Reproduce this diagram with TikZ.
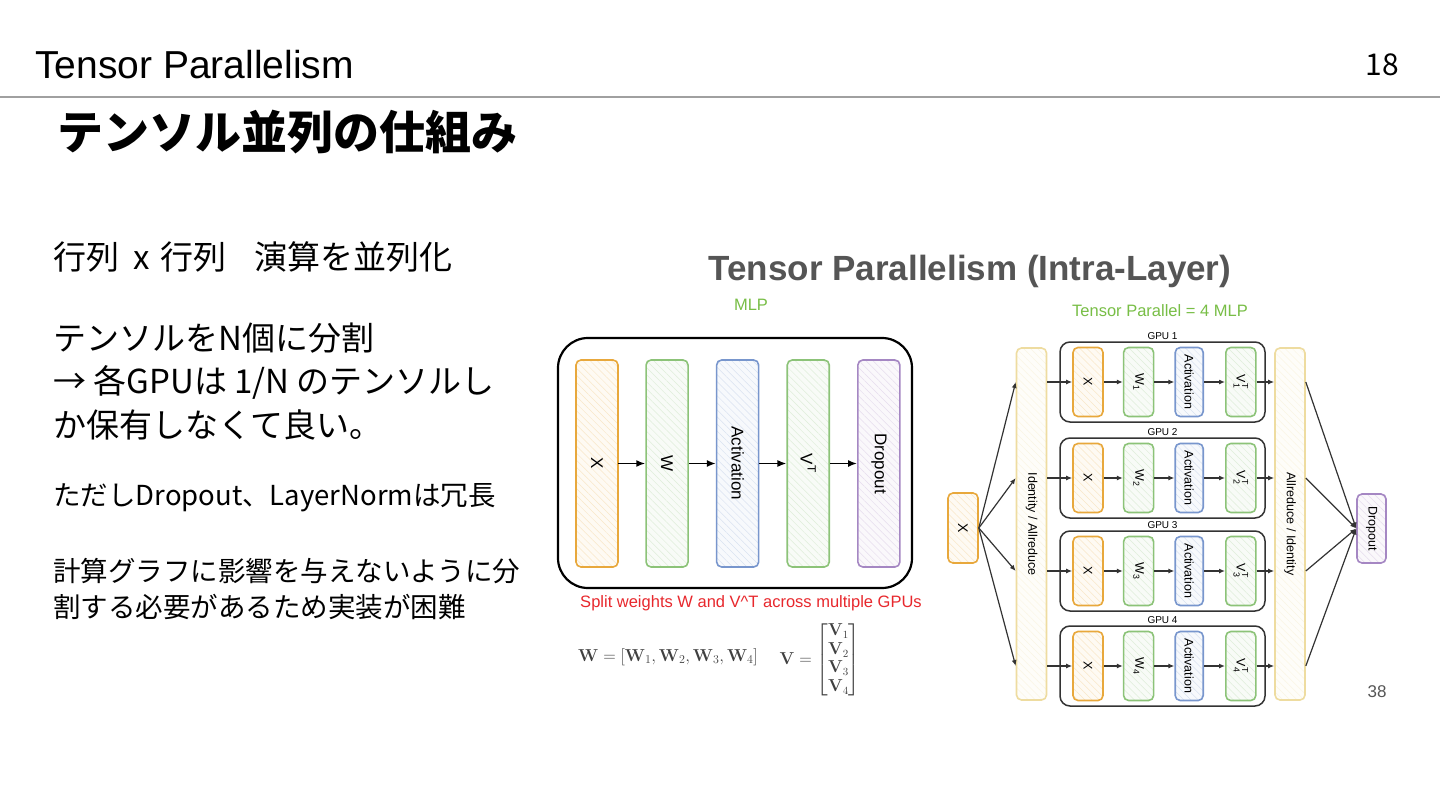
\documentclass[tikz,border=0pt]{standalone}
\usepackage{amsmath}
\usepackage[no-math]{fontspec}
\usetikzlibrary{arrows.meta,positioning,patterns.meta}
\setmainfont{Liberation Sans}
\newfontfamily\jpfont{Noto Sans CJK JP}
\definecolor{xorange}{RGB}{232,168,60}
\definecolor{wgreen}{RGB}{140,195,120}
\definecolor{actblue}{RGB}{120,150,205}
\definecolor{dpurple}{RGB}{165,135,195}
\definecolor{idyellow}{RGB}{238,220,160}
\definecolor{mlpgreen}{RGB}{120,190,70}
\definecolor{splitred}{RGB}{232,40,45}
\definecolor{rulegray}{RGB}{160,160,160}
\definecolor{figgray}{RGB}{85,85,85}

\begin{document}
\begin{tikzpicture}[x=1pt,y=-1pt,
  box/.style={draw=#1,line width=1.6pt,rounded corners=5pt,preaction={fill=#1!6},
    pattern={Lines[angle=-45,distance=5pt,line width=0.5pt]},pattern color=#1!28},
  tall/.style={minimum width=42pt,minimum height=207pt,inner sep=0pt,
    font=\fontsize{17}{20}\selectfont},
  cell/.style={minimum width=30pt,minimum height=69pt,inner sep=0pt,
    font=\fontsize{12.5}{15}\selectfont},
  side/.style={minimum width=30pt,minimum height=352pt,inner sep=0pt,
    font=\fontsize{12.5}{15}\selectfont},
  gpu/.style={draw=black!80,line width=1.5pt,rounded corners=10pt,
    minimum width=205pt,minimum height=80pt},
  body/.style={anchor=west,inner sep=0pt,font=\jpfont\fontsize{33}{39}\selectfont},
  small/.style={anchor=west,inner sep=0pt,font=\jpfont\fontsize{27.5}{32}\selectfont},
  flow/.style={-{Latex[length=9pt,width=7pt]},line width=1.6pt},
  flowsm/.style={-{Latex[length=6pt,width=5pt]},line width=1.2pt,black!80}
]
  \useasboundingbox (0,0) rectangle (1440,810);
  \fill[white] (0,0) rectangle (1440,810);

  % slide header
  \node[anchor=base west,inner sep=0pt,font=\fontsize{39}{45}\selectfont] (hdr) at (35,79) {Tensor Parallelism};
  \node[anchor=base east,inner sep=0pt,font=\jpfont\fontsize{30}{36}\selectfont] (pgno) at (1399,76) {18};
  \draw[rulegray,line width=2.5pt] (0,97) -- (1440,97);
  \node[anchor=west,inner sep=0pt,font=\jpfont\bfseries\fontsize{46}{52}\selectfont] (heading) at (57,132) {テンソル並列の仕組み};

  % left text
  \node[body] (t1) at (53,257) {行列\hspace{14pt}x\hspace{11pt}行列\hspace{28pt}演算を並列化};
  \node[body] (t2) at (53,338) {テンソルをN個に分割};
  \node[body] (t3) at (53,382) {→ 各GPUは 1/N のテンソルし};
  \node[body] (t4) at (53,425) {か保有しなくて良い。};
  \node[small] (t5) at (53,498) {ただしDropout、LayerNormは冗長};
  \node[small] (t6) at (53,571) {計算グラフに影響を与えないように分};
  \node[small] (t7) at (53,607) {割する必要があるため実装が困難};

  % figure titles
  \node[font=\bfseries\fontsize{35}{40}\selectfont,text=figgray] (ftitle) at (970,271) {Tensor Parallelism (Intra-Layer)};
  \node[font=\fontsize{16.5}{19}\selectfont,text=mlpgreen] (mlplab) at (751,305) {MLP};
  \node[font=\fontsize{16.5}{19}\selectfont,text=mlpgreen] (tplab) at (1160,311) {Tensor Parallel = 4 MLP};

  % single MLP
  \node[draw,line width=2.2pt,rounded corners=30pt,minimum width=354pt,minimum height=250pt] (mlp) at (735,463) {};
  \node[tall,box=xorange] (lx) at (597,463.5) {\rotatebox{-90}{X}};
  \node[tall,box=wgreen,right=27pt of lx] (lw) {\rotatebox{-90}{W}};
  \node[tall,box=actblue,right=27pt of lw] (lact) {\rotatebox{-90}{Activation}};
  \node[tall,box=wgreen,right=27pt of lact] (lv) {\rotatebox{-90}{$\text{V}^{\text{T}}$}};
  \node[tall,box=dpurple,right=27pt of lv] (ldrop) {\rotatebox{-90}{Dropout}};
  \draw[flow] (lx) -- (lw);
  \draw[flow] (lw) -- (lact);
  \draw[flow] (lact) -- (lv);
  \draw[flow] (lv) -- (ldrop);

  \node[inner sep=0pt,font=\fontsize{16.5}{19}\selectfont,text=splitred] (split) at (751,603) {Split weights W and V\^{}T across multiple GPUs};
  \node[inner sep=0pt,font=\fontsize{17}{20}\selectfont,text=black!75] (wform) at (668,657)
    {$\mathbf{W}=[\mathbf{W}_1,\mathbf{W}_2,\mathbf{W}_3,\mathbf{W}_4]$};
  \node[inner sep=0pt,font=\fontsize{16}{18.5}\selectfont,text=black!75] (vform) at (820,660)
    {$\mathbf{V}=\begin{bmatrix}\mathbf{V}_1\\\mathbf{V}_2\\\mathbf{V}_3\\\mathbf{V}_4\end{bmatrix}$};

  % tensor parallel MLP
  \node[cell,box=xorange,minimum height=70pt,font=\fontsize{14}{16}\selectfont] (inx) at (963,528) {\rotatebox{-90}{X}};
  \node[side,box=idyellow] (ident) at (1031.5,524) {\rotatebox{-90}{Identity / Allreduce}};
  \node[side,box=idyellow] (allred) at (1290,524) {\rotatebox{-90}{Allreduce / Identity}};
  \node[cell,box=dpurple,minimum width=29pt] (rdrop) at (1371.5,528.5) {\rotatebox{-90}{Dropout}};
  \foreach \i/\y in {1/382,2/478,3/571,4/666}{
    \node[gpu] (g\i) at (1162.5,\y) {};
    \node[font=\fontsize{10}{12}\selectfont,above=0pt of g\i,inner sep=1pt] (gl\i) {GPU \i};
    \node[cell,box=xorange] (x\i) at (1088,\y) {\rotatebox{-90}{X}};
    \node[cell,box=wgreen,right=19pt of x\i] (w\i) {\rotatebox{-90}{$\text{W}_{\text{\i}}$}};
    \node[cell,box=actblue,minimum width=28pt,right=20pt of w\i] (a\i) {\rotatebox{-90}{Activation}};
    \node[cell,box=wgreen,right=21pt of a\i] (v\i) {\rotatebox{-90}{$\text{V}^{\text{T}}_{\text{\i}}$}};
    \draw[flowsm] (inx.east) -- (ident.west|-x\i);
    \draw[flowsm] (ident.east|-x\i) -- (x\i);
    \draw[flowsm] (x\i) -- (w\i);
    \draw[flowsm] (w\i) -- (a\i);
    \draw[flowsm] (a\i) -- (v\i);
    \draw[flowsm] (v\i) -- (allred.west|-v\i);
    \draw[flowsm] (allred.east|-v\i) -- (rdrop.west);
  }
  \node[font=\fontsize{17}{20}\selectfont,text=figgray] (oldpg) at (1377,692) {38};
\end{tikzpicture}
\end{document}
